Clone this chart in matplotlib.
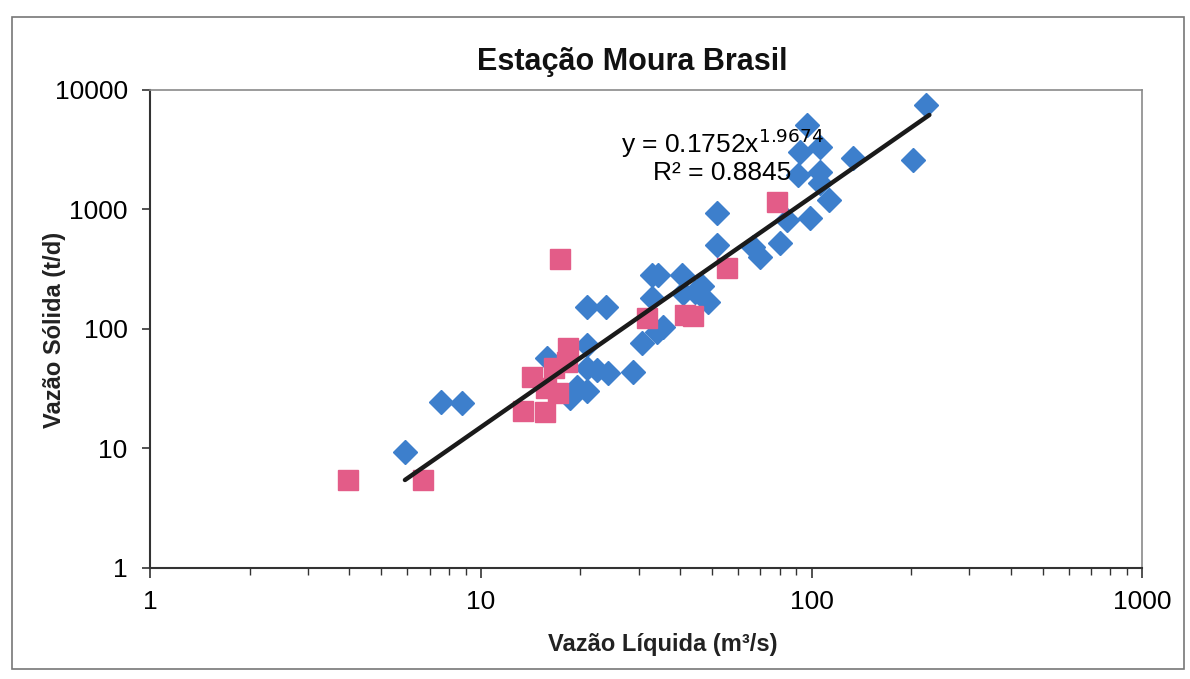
import matplotlib
matplotlib.use('Agg')
import matplotlib.pyplot as plt
from matplotlib.patches import Rectangle
from matplotlib.ticker import LogLocator, NullFormatter, FixedLocator, FixedFormatter

plt.rcParams['font.family'] = ['Liberation Sans', 'DejaVu Sans']

# blue diamonds (vazão líquida m3/s, vazão sólida t/d)
blue_q = [5.9, 7.6, 8.8, 15.9, 20.9, 21.0, 23.9, 20.9, 22.4, 24.2, 19.5, 20.9, 18.6,
          28.8, 30.8, 32.9, 34.3, 32.9, 35.5, 34.0, 40.5, 40.8, 44.3, 46.8, 48.5,
          51.6, 51.6, 66.3, 69.7, 80.0, 84.0, 98.6, 97.2, 92.0, 105.7, 90.7, 105.7,
          105.7, 113, 133, 202, 222]
blue_qs = [9.3, 24.5, 24, 57, 73, 153, 153, 47, 45, 43, 33, 30, 26.5,
           44, 76, 283, 283, 182, 104, 94, 283, 200, 204, 230, 168,
           505, 935, 486, 400, 525, 817, 849, 5100, 3030, 3330, 1945, 2060,
           1667, 1200, 2700, 2600, 7490]

# pink squares
pink_q = [3.97, 6.7, 17.3, 14.3, 13.4, 15.6, 18.3, 18.2, 16.7, 17.1, 15.7, 31.7,
          41.3, 43.7, 55.4, 78.4]
pink_qs = [5.45, 5.45, 385, 40, 20.6, 20.2, 69, 53, 47, 29, 32, 124,
           131, 128, 324, 1156]

# power trend line ends
trend_q = [5.9, 227]
trend_qs = [5.45, 6180]

eq_text = 'y = 0.1752x$^{1.9674}$'
r2_text = 'R² = 0.8845'

fig = plt.figure(figsize=(11.9, 6.79), dpi=100)
ax = fig.add_axes([0.126, 0.1635, 0.834, 0.704])

ax.plot(trend_q, trend_qs, color='#1a1a1a', lw=3.2, solid_capstyle='round', zorder=3)
ax.plot(blue_q, blue_qs, 'D', color='#3d7fcc', ms=12.5, mec='#3d7fcc', zorder=2, ls='none')
ax.plot(pink_q, pink_qs, 's', color='#e35c88', ms=14, mec='#e35c88', zorder=2, ls='none')

ax.set_xscale('log')
ax.set_yscale('log')
ax.set_xlim(1, 1000)
ax.set_ylim(1, 10000)

ax.xaxis.set_major_locator(FixedLocator([1, 10, 100, 1000]))
ax.xaxis.set_major_formatter(FixedFormatter(['1', '10', '100', '1000']))
ax.xaxis.set_minor_locator(LogLocator(base=10, subs=range(2, 10)))
ax.xaxis.set_minor_formatter(NullFormatter())
ax.yaxis.set_major_locator(FixedLocator([1, 10, 100, 1000, 10000]))
ax.yaxis.set_major_formatter(FixedFormatter(['1', '10', '100', '1000', '10000']))
ax.yaxis.set_minor_locator(FixedLocator([]))

ax.tick_params(axis='x', which='major', length=7, width=1.2, direction='out',
               labelsize=19, pad=9, color='#333333')
ax.tick_params(axis='x', which='minor', length=5, width=1.0, direction='out', color='#333333')
ax.tick_params(axis='y', which='major', length=6, width=1.2, direction='out',
               labelsize=19, pad=10, color='#333333')
ax.tick_params(top=False, right=False)

for s in ['left', 'bottom']:
    ax.spines[s].set_color('#333333')
    ax.spines[s].set_linewidth(1.5)
for s in ['top', 'right']:
    ax.spines[s].set_color('#8a8a8a')
    ax.spines[s].set_linewidth(1.2)

fig.text(663 / 1190, 1 - 645 / 679, 'Vazão Líquida (m³/s)', fontsize=17,
         fontweight='bold', ha='center', va='center', color='#222222')
fig.text(55 / 1190, 1 - 330 / 679, 'Vazão Sólida (t/d)', fontsize=17,
         fontweight='bold', ha='center', va='center', rotation=90, color='#222222')
fig.text(632 / 1190, 1 - 62 / 679, 'Estação Moura Brasil', fontsize=22,
         fontweight='bold', ha='center', va='center', color='#111111')

ax.text((722 - 150) / 992, (568 - 143) / 478, eq_text, transform=ax.transAxes,
        ha='center', va='center', fontsize=19)
ax.text((722 - 150) / 992, (568 - 173) / 478, r2_text, transform=ax.transAxes,
        ha='center', va='center', fontsize=19)

fig.patches.append(Rectangle((0.010, 0.015), 0.985, 0.96, transform=fig.transFigure,
                             fill=False, edgecolor='#777777', lw=1.2))

fig.savefig('out.png', dpi=100)
